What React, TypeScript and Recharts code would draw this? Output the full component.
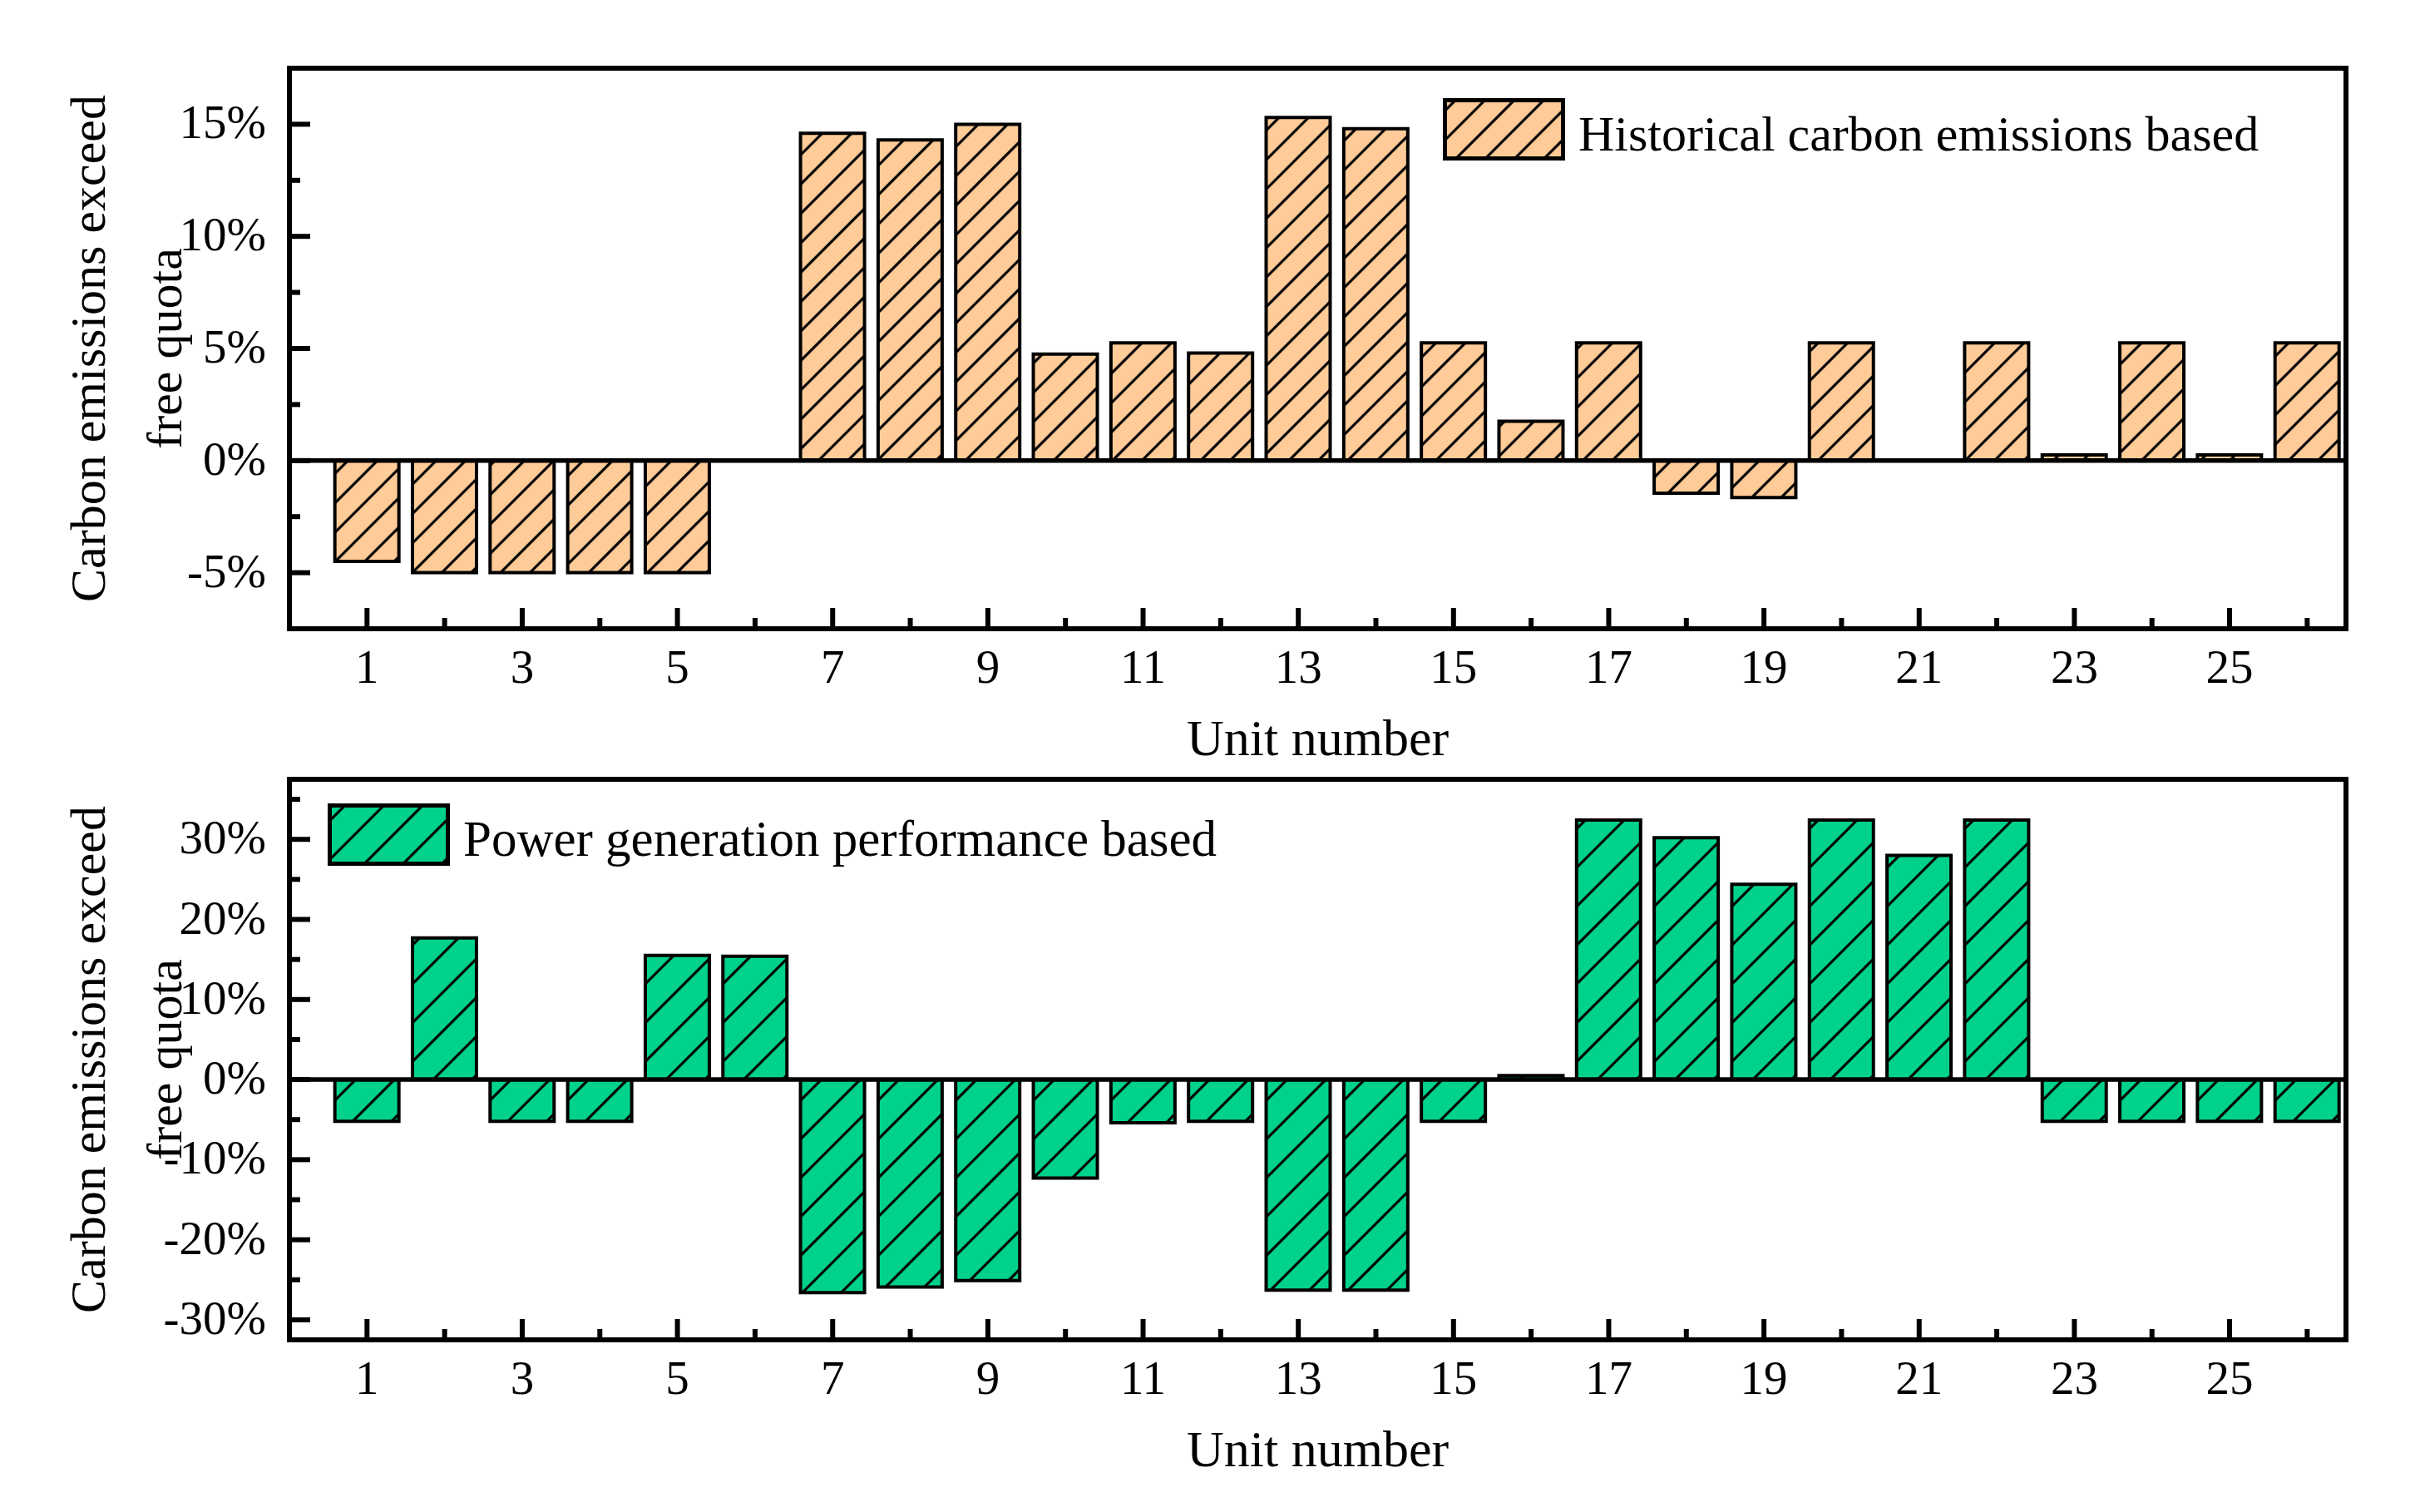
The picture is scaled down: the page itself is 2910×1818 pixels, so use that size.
import React from "react";
import { BarChart, Bar, XAxis, YAxis, ReferenceLine, Legend } from "recharts";

// unit numbers on the x axis
const units = [
  1, 2, 3, 4, 5, 6, 7, 8, 9, 10, 11, 12, 13, 14, 15, 16, 17, 18, 19, 20, 21,
  22, 23, 24, 25, 26,
];

// % by which carbon emissions exceed the free quota
const historicalBased = [
  -4.5, -5, -5, -5, -5, 0, 14.6, 14.3, 15.0, 4.75, 5.25, 4.8, 15.3, 14.8, 5.25,
  1.75, 5.25, -1.45, -1.65, 5.25, 0, 5.25, 0.25, 5.25, 0.25, 5.25,
];
const performanceBased = [
  -5.2, 17.7, -5.2, -5.2, 15.5, 15.4, -26.6, -25.9, -25.1, -12.3, -5.4, -5.2,
  -26.3, -26.3, -5.2, 0.5, 32.4, 30.2, 24.4, 32.4, 28.0, 32.4, -5.2, -5.2, -5.2,
  -5.2,
];

const xDomain: [number, number] = [0, 26.5];
const topYDomain: [number, number] = [-7.5, 17.5];
const bottomYDomain: [number, number] = [-32.5, 37.5];
const topYTicks = [-5, -2.5, 0, 2.5, 5, 7.5, 10, 12.5, 15];
const bottomYTicks = [-30, -25, -20, -15, -10, -5, 0, 5, 10, 15, 20, 25, 30, 35];

const yTitleLines = ["Carbon emissions exceed", "free quota"];
const xTitle = "Unit number";

const FONT = '"Liberation Serif", "Times New Roman", serif';
const LINE = 6;

const makeYTick = (major: number) => (props: any) => {
  const { x, y, payload } = props;
  const v = payload.value;
  const isMajor = Math.abs(v / major - Math.round(v / major)) < 1e-6;
  const ax = x + 28;
  return (
    <g>
      <line
        x1={ax}
        y1={y}
        x2={ax + (isMajor ? 25 : 13)}
        y2={y}
        stroke="#000"
        strokeWidth={LINE}
      />
      {isMajor && (
        <text
          x={x}
          y={y}
          dy={17}
          textAnchor="end"
          fontFamily={FONT}
          fontSize={57}
          fill="#000"
        >
          {`${v}%`}
        </text>
      )}
    </g>
  );
};

const XTick = (props: any) => {
  const { x, y, payload } = props;
  const v = payload.value;
  const odd = v % 2 === 1;
  const ay = y - 65;
  return (
    <g>
      <line
        x1={x}
        y1={ay}
        x2={x}
        y2={ay - (odd ? 25 : 13)}
        stroke="#000"
        strokeWidth={LINE}
      />
      {odd && (
        <text
          x={x}
          y={y}
          textAnchor="middle"
          fontFamily={FONT}
          fontSize={57}
          fill="#000"
        >
          {v}
        </text>
      )}
    </g>
  );
};

const YTitle = (props: any) => {
  const vb = props.viewBox;
  const ax = vb.x + vb.width;
  const cy = vb.y + vb.height / 2;
  return (
    <g>
      {yTitleLines.map((t, i) => {
        const x = ax - 242 + i * 92;
        return (
          <text
            key={t}
            x={x}
            y={cy}
            transform={`rotate(-90 ${x} ${cy})`}
            textAnchor="middle"
            dominantBaseline="central"
            fontFamily={FONT}
            fontSize={60}
            fill="#000"
          >
            {t}
          </text>
        );
      })}
    </g>
  );
};

const XTitle = (props: any) => {
  const vb = props.viewBox;
  return (
    <text
      x={vb.x + vb.width / 2}
      y={vb.y + 152}
      textAnchor="middle"
      fontFamily={FONT}
      fontSize={62}
      fill="#000"
    >
      {xTitle}
    </text>
  );
};

function Hatch({ id, color, gap }: { id: string; color: string; gap: number }) {
  return (
    <pattern
      id={id}
      patternUnits="userSpaceOnUse"
      width={gap}
      height={gap}
      patternTransform="rotate(45)"
    >
      <rect width={gap} height={gap} fill={color} />
      <line x1={gap / 2} y1={0} x2={gap / 2} y2={gap} stroke="#000" strokeWidth={3.2} />
    </pattern>
  );
}

function LegendBox({ id, color, gap, text, size }: any) {
  return (
    <div
      style={{
        display: "flex",
        alignItems: "center",
        fontFamily: FONT,
        fontSize: size,
        whiteSpace: "nowrap",
        color: "#000",
      }}
    >
      <svg width={147} height={75} style={{ display: "block" }}>
        <defs>
          <Hatch id={id} color={color} gap={gap} />
        </defs>
        <rect x={2.5} y={2.5} width={142} height={70} fill={`url(#${id})`} stroke="#000" strokeWidth={5} />
      </svg>
      <span style={{ marginLeft: 16, lineHeight: 1, paddingTop: 10 }}>{text}</span>
    </div>
  );
}

interface PanelProps {
  values: number[];
  name: string;
  color: string;
  gap: number;
  id: string;
  domain: [number, number];
  yTicks: number[];
  major: number;
  top: number;
  height: number;
  margin: { top: number; right: number; bottom: number; left: number };
  legendPos: { left: number; top: number };
  legendSize: number;
}

function Panel(p: PanelProps) {
  const data = units.map((u, i) => ({ unit: u, value: p.values[i] }));
  const axisLine = { stroke: "#000", strokeWidth: LINE, strokeLinecap: "square" };
  return (
    <div style={{ position: "absolute", left: 0, top: p.top }}>
      <BarChart width={2910} height={p.height} data={data} margin={p.margin}>
        <defs>
          <Hatch id={p.id} color={p.color} gap={p.gap} />
        </defs>
        <XAxis
          dataKey="unit"
          type="number"
          domain={xDomain}
          allowDataOverflow
          ticks={units}
          interval={0}
          height={100}
          tickSize={0}
          tickMargin={65}
          tickLine={false}
          tick={XTick}
          axisLine={axisLine}
          label={XTitle}
        />
        <YAxis
          type="number"
          domain={p.domain}
          allowDataOverflow
          ticks={p.yTicks}
          interval={0}
          width={100}
          tickSize={0}
          tickMargin={28}
          tickLine={false}
          tick={makeYTick(p.major)}
          axisLine={axisLine}
          label={YTitle}
        />
        <Legend
          layout="horizontal"
          verticalAlign="middle"
          align="center"
          wrapperStyle={{ left: p.legendPos.left, top: p.legendPos.top, width: 1150 }}
          content={() => (
            <LegendBox
              id={`${p.id}-lg`}
              color={p.color}
              gap={p.gap}
              text={p.name}
              size={p.legendSize}
            />
          )}
        />
        <Bar
          dataKey="value"
          name={p.name}
          fill={`url(#${p.id})`}
          stroke="#000"
          strokeWidth={4}
          barSize={77}
          isAnimationActive={false}
        />
        <ReferenceLine y={0} stroke="#000" strokeWidth={5.5} />
        {/* frame: top and right edges of the plot box */}
        <ReferenceLine y={p.domain[1]} stroke="#000" strokeWidth={LINE} strokeLinecap="square" />
        <ReferenceLine x={xDomain[1]} stroke="#000" strokeWidth={LINE} strokeLinecap="square" />
      </BarChart>
    </div>
  );
}

export default function App() {
  return (
    <div
      style={{
        position: "absolute",
        left: 0,
        top: 0,
        width: 2910,
        height: 1818,
        background: "#fff",
        overflow: "hidden",
      }}
    >
      <Panel
        values={historicalBased}
        name="Historical carbon emissions based"
        color="#FFCC99"
        gap={25}
        id="hatchHist"
        domain={topYDomain}
        yTicks={topYTicks}
        major={5}
        top={0}
        height={940}
        margin={{ top: 82, right: 89, bottom: 84, left: 248 }}
        legendPos={{ left: 1735, top: 118 }}
        legendSize={60}
      />
      <Panel
        values={performanceBased}
        name="Power generation performance based"
        color="#00D28C"
        gap={33}
        id="hatchPerf"
        domain={bottomYDomain}
        yTicks={bottomYTicks}
        major={10}
        top={909}
        height={909}
        margin={{ top: 28, right: 89, bottom: 107, left: 248 }}
        legendPos={{ left: 394, top: 57 }}
        legendSize={61}
      />
    </div>
  );
}
